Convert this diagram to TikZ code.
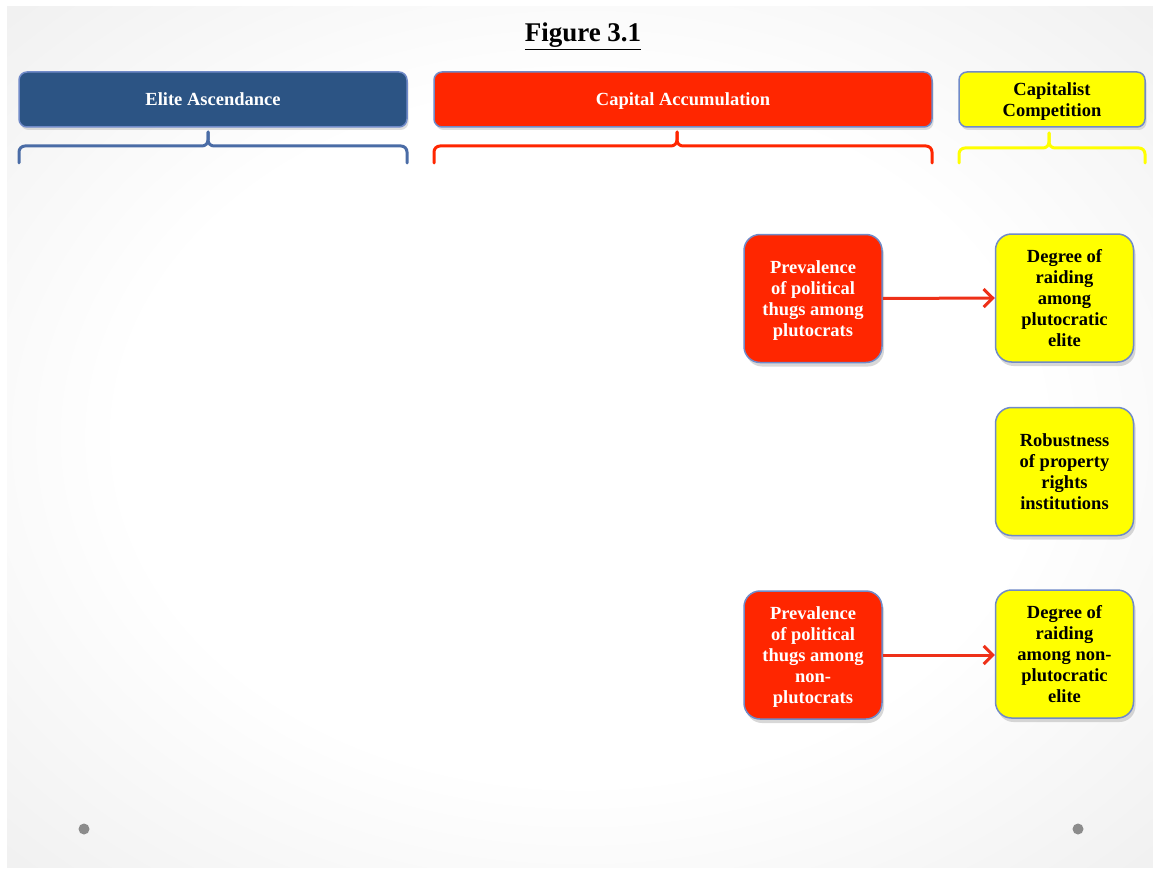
\documentclass[tikz,border=0pt]{standalone}
\usepackage{fontspec}
\setmainfont{Liberation Serif}
\usetikzlibrary{arrows.meta,shadows}
\definecolor{eblue}{RGB}{44,84,132}
\definecolor{bord}{RGB}{112,138,200}
\definecolor{cred}{RGB}{255,38,0}
\definecolor{cyel}{RGB}{255,255,0}
\definecolor{bbrace}{RGB}{74,108,166}
\definecolor{arrred}{RGB}{238,48,24}
\definecolor{dotgray}{RGB}{140,140,140}
\pgfdeclareradialshading{slidebg}{\pgfpoint{0bp}{0bp}}{color(0bp)=(white); color(20bp)=(white); color(50bp)=(black!11); color(72bp)=(black!20)}
\tikzset{
  header/.style={draw=bord, line width=1.5pt, rounded corners=8pt, minimum height=55pt,
    font=\fontsize{18.5}{21}\selectfont\bfseries, align=center, inner sep=0pt, text depth=-1.5pt,
    drop shadow={shadow xshift=1.5pt, shadow yshift=-3pt, opacity=0.25}},
  varbox/.style={draw=bord, line width=1.5pt, rounded corners=16pt, minimum width=138pt, minimum height=128pt,
    font=\fontsize{18.5}{21}\selectfont\bfseries, align=center, inner sep=0pt, text depth=-1.5pt,
    drop shadow={shadow xshift=2pt, shadow yshift=-4pt, opacity=0.3}},
  redbox/.style={varbox, fill=cred, text=white},
  yelbox/.style={varbox, fill=cyel, text=black},
  bracestyle/.style={line width=3pt, rounded corners=6pt, line cap=round},
  flow/.style={draw=arrred, line width=3pt, -{Straight Barb[length=9pt,width=18pt,line width=3pt]}},
}
\begin{document}
\begin{tikzpicture}[x=1pt,y=-1pt]
\useasboundingbox (0,0) rectangle (1153,869);
\fill[white] (0,0) rectangle (1153,869);
\shade[shading=slidebg] (7,7) rectangle (1153,867);

\node[font=\fontsize{27}{30}\selectfont\bfseries] (title) at (583,36) {\underline{Figure 3.1}};

\node[header, fill=eblue, text=white, minimum width=388pt] (ea) at (213,99.5) {Elite Ascendance};
\node[header, fill=cred, text=white, minimum width=498pt] (ca) at (683,99.5) {Capital Accumulation};
\node[header, fill=cyel, text=black, minimum width=186pt] (cc) at (1052,99.5) {Capitalist\\Competition};

% braces
\draw[bracestyle, draw=bbrace] (19,163) -- (19,146) -- (208,146) -- (208,132);
\draw[bracestyle, draw=bbrace] (208,132) -- (208,146) -- (407,146) -- (407,163);
\draw[bracestyle, draw=cred] (434,163) -- (434,146) -- (677,146) -- (677,132);
\draw[bracestyle, draw=cred] (677,132) -- (677,146) -- (932,146) -- (932,163);
\draw[bracestyle, draw=cyel] (959,163) -- (959,148) -- (1049,148) -- (1049,133);
\draw[bracestyle, draw=cyel] (1049,133) -- (1049,148) -- (1145,148) -- (1145,163);

\node[redbox] (p1) at (813,298.5) {Prevalence\\of political\\thugs among\\plutocrats};
\node[yelbox] (d1) at (1064.5,298) {Degree of\\raiding\\among\\plutocratic\\elite};
\node[yelbox] (rb) at (1064.5,471.5) {Robustness\\of property\\rights\\institutions};
\node[redbox] (p2) at (813,655) {Prevalence\\of political\\thugs among\\non-\\plutocrats};
\node[yelbox] (d2) at (1064.5,654) {Degree of\\raiding\\among non-\\plutocratic\\elite};

\draw[flow] (p1.east) -- (d1.west);
\draw[flow] (p2.east) -- (d2.west |- p2.east);

\fill[dotgray] (84,829) circle (5.5pt) coordinate (dl);
\fill[dotgray] (1078,829) circle (5.5pt) coordinate (dr);
\end{tikzpicture}
\end{document}
